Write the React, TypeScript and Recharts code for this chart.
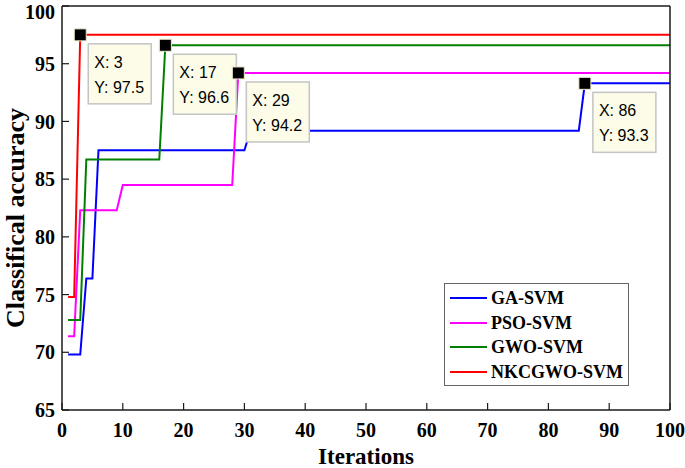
import React from "react";
import { ComposedChart, Line, XAxis, YAxis, Scatter, Legend } from "recharts";

// breakpoints of each convergence curve (iteration, accuracy)
const gaIter = [1, 3, 4, 5, 6, 30, 31, 85, 86, 100];
const gaAcc = [69.8, 69.8, 76.4, 76.4, 87.5, 87.5, 89.2, 89.2, 93.3, 93.3];
const psoIter = [1, 2, 3, 9, 10, 28, 29, 100];
const psoAcc = [71.4, 71.4, 82.3, 82.3, 84.5, 84.5, 94.2, 94.2];
const gwoIter = [1, 3, 4, 16, 17, 100];
const gwoAcc = [72.8, 72.8, 86.7, 86.7, 96.6, 96.6];
const nkIter = [1, 2, 3, 100];
const nkAcc = [74.8, 74.8, 97.5, 97.5];

// data tips
const tipIter = [3, 17, 29, 86];
const tipAcc = [97.5, 96.6, 94.2, 93.3];

const xTicks = [0, 10, 20, 30, 40, 50, 60, 70, 80, 90, 100];
const yTicks = [65, 70, 75, 80, 85, 90, 95, 100];

const zip = (xs: number[], ys: number[]) => xs.map((x, i) => ({ x, y: ys[i] }));

const series = [
  { name: "GA-SVM", color: "#0000ff", data: zip(gaIter, gaAcc) },
  { name: "PSO-SVM", color: "#ff00ff", data: zip(psoIter, psoAcc) },
  { name: "GWO-SVM", color: "#008000", data: zip(gwoIter, gwoAcc) },
  { name: "NKCGWO-SVM", color: "#ff0000", data: zip(nkIter, nkAcc) },
];
const seriesOrder = series.map((s) => s.name);
const tips = zip(tipIter, tipAcc);

const serif = '"Liberation Serif", "Times New Roman", serif';
const sans = '"Liberation Sans", Arial, sans-serif';
const axisColor = "#1a1a1a";
const tickFont = { fill: "#000", fontSize: 20, fontWeight: "bold", fontFamily: serif };

function TipShape(props: any) {
  const { cx, cy, payload } = props;
  const bx = cx + 8;
  const by = cy + 9;
  return (
    <g>
      <rect x={cx - 6} y={cy - 6} width={12} height={12} fill="#000" stroke="#eeeacc" strokeWidth={1} />
      <rect x={bx} y={by} width={63} height={60} fill="#fcfce8" stroke="#c4c4c4" strokeWidth={1.5} />
      <text x={bx + 6} y={by + 24} fontSize={16} fontFamily={sans} fill="#000">
        {`X: ${payload.x}`}
      </text>
      <text x={bx + 6} y={by + 49} fontSize={16} fontFamily={sans} fill="#000">
        {`Y: ${payload.y}`}
      </text>
    </g>
  );
}

function LegendBox({ payload }: any) {
  const items = (payload || [])
    .filter((p: any) => p.type !== "none")
    .sort((a: any, b: any) => seriesOrder.indexOf(a.value) - seriesOrder.indexOf(b.value));
  return (
    <div style={{ border: "1px solid #666", background: "#fff", width: 183, padding: "2px 0 1px 0" }}>
      {items.map((p: any) => (
        <div key={p.value} style={{ display: "flex", alignItems: "center", height: 24.5 }}>
          <svg width={46} height={10}>
            <line x1={5} x2={42} y1={5} y2={5} stroke={p.color} strokeWidth={2} />
          </svg>
          <span style={{ fontFamily: serif, fontWeight: "bold", fontSize: 18, lineHeight: "24px" }}>{p.value}</span>
        </div>
      ))}
    </div>
  );
}

function YLabel({ viewBox }: any) {
  const x = viewBox.x + 15;
  const y = viewBox.y + viewBox.height / 2 + 10;
  return (
    <text
      x={x}
      y={y}
      transform={`rotate(-90, ${x}, ${y})`}
      textAnchor="middle"
      dominantBaseline="central"
      fontFamily={serif}
      fontWeight="bold"
      fontSize={26}
      fill="#000"
    >
      Classifical accuracy
    </text>
  );
}

export default function App() {
  return (
    <div style={{ position: "absolute", left: 0, top: 0, background: "#fff" }}>
      <ComposedChart width={685} height={468} margin={{ top: 5, right: 14, bottom: 0, left: 0 }}>
        <XAxis
          dataKey="x"
          type="number"
          domain={[0, 100]}
          ticks={xTicks}
          height={58}
          tickSize={-7}
          tickMargin={20}
          axisLine={{ stroke: axisColor, strokeWidth: 1.5 }}
          tickLine={{ stroke: axisColor, strokeWidth: 1.2 }}
          tick={tickFont}
          label={{
            value: "Iterations",
            position: "insideBottom",
            offset: 4,
            style: { fill: "#000", fontSize: 23, fontWeight: "bold", fontFamily: serif },
          }}
        />
        <XAxis
          xAxisId="top"
          orientation="top"
          dataKey="x"
          type="number"
          domain={[0, 100]}
          ticks={xTicks}
          height={1}
          tickSize={-7}
          axisLine={{ stroke: axisColor, strokeWidth: 1.5 }}
          tickLine={{ stroke: axisColor, strokeWidth: 1.2 }}
          tick={false}
        />
        <YAxis
          dataKey="y"
          type="number"
          domain={[65, 100]}
          ticks={yTicks}
          width={62}
          tickSize={-7}
          tickMargin={14}
          axisLine={{ stroke: axisColor, strokeWidth: 1.5 }}
          tickLine={{ stroke: axisColor, strokeWidth: 1.2 }}
          tick={tickFont}
          label={<YLabel />}
        />
        <YAxis
          yAxisId="right"
          orientation="right"
          dataKey="y"
          type="number"
          domain={[65, 100]}
          ticks={yTicks}
          width={1}
          tickSize={-7}
          axisLine={{ stroke: axisColor, strokeWidth: 1.5 }}
          tickLine={{ stroke: axisColor, strokeWidth: 1.2 }}
          tick={false}
        />
        {series.map((s) => (
          <Line
            key={s.name}
            data={s.data}
            dataKey="y"
            name={s.name}
            type="linear"
            stroke={s.color}
            strokeWidth={2}
            dot={false}
            activeDot={false}
            isAnimationActive={false}
          />
        ))}
        <Scatter data={tips} dataKey="y" legendType="none" shape={<TipShape />} isAnimationActive={false} />
        <Legend
          layout="horizontal"
          verticalAlign="middle"
          align="center"
          content={<LegendBox />}
          wrapperStyle={{ left: 444, top: 283, width: "auto" }}
        />
      </ComposedChart>
    </div>
  );
}
